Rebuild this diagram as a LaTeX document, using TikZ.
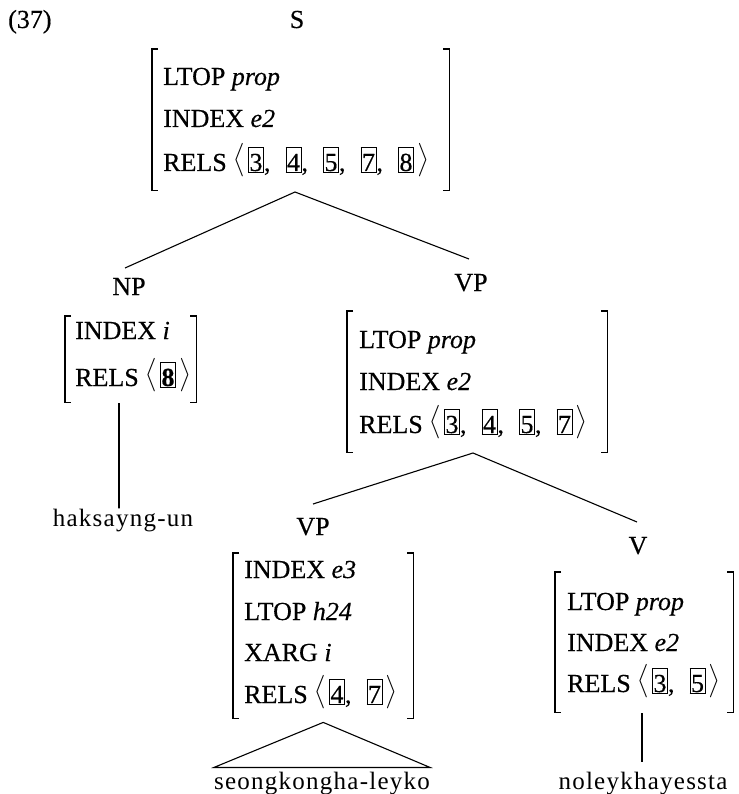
\documentclass[tikz,border=0pt]{standalone}
\usepackage{amsmath}
\usepackage{graphicx}
\usepackage{fontspec}
\setmainfont{Liberation Serif}[FakeBold=0.4]
\newfontfamily\wordfont[LetterSpace=5]{Liberation Serif}

% boxed tag numbers inside RELS lists
\newcommand\tagbox[1]{{\setlength\fboxsep{0.6pt}\setlength\fboxrule{0.9pt}\fbox{\rule{0pt}{22.5pt}#1}}}
\newcommand\relgap{,\hspace{15pt}}
\newcommand\angl[1]{\raisebox{3.5pt}{\scalebox{1}[1.12]{$#1$}}}
\newcommand\rels[1]{\angl{\bigl\langle}\hspace{3pt}#1\hspace{3pt}\angl{\bigr\rangle}}
% square brackets of an attribute-value matrix drawn round a named area node
\newcommand\avmbrackets[1]{%
  \draw[bracket] ([xshift=6pt]#1.north west) -- (#1.north west) -- (#1.south west) -- ([xshift=6pt]#1.south west);
  \draw[bracket] ([xshift=-6pt]#1.north east) -- (#1.north east) -- (#1.south east) -- ([xshift=-6pt]#1.south east);}

\begin{document}
\begin{tikzpicture}[x=1pt,y=-1pt,
  every node/.style={font=\fontsize{26}{30}\selectfont, inner sep=0pt},
  cat/.style={anchor=base},
  avmline/.style={anchor=base west},
  avmarea/.style={anchor=north west, inner sep=0pt},
  word/.style={anchor=base, font=\fontsize{25}{30}\wordfont},
  bracket/.style={line width=1.6pt},
  edge/.style={line width=1.1pt}]

\fill[white] (0,0) rectangle (738,794);
\useasboundingbox (0,0) rectangle (738,794);

\node[avmline] (exnum) at (8,28) {(37)};

% ---- S ----
\node[cat] (S) at (297,28) {S};
\node[avmarea, minimum width=297pt, minimum height=141pt] (Savm) at (152,49) {};
\node[avmline] (S1) at (163,85) {LTOP \textit{prop}};
\node[avmline] (S2) at (163,127) {INDEX \textit{e2}};
\node[avmline] (S3) at (163,171) {RELS \rels{\tagbox3\relgap\tagbox4\relgap\tagbox5\relgap\tagbox7\relgap\tagbox8}};
\avmbrackets{Savm}

% ---- NP ----
\node[cat] (NP) at (129,295) {NP};
\node[avmarea, minimum width=131pt, minimum height=86pt] (NPavm) at (65,316) {};
\node[avmline] (NP1) at (75,339) {INDEX \textit{i}};
\node[avmline] (NP2) at (75,386) {RELS \rels{\tagbox{\textbf{8}}}};
\avmbrackets{NPavm}

% ---- upper VP ----
\node[cat] (VP) at (471,291) {VP};
\node[avmarea, minimum width=260pt, minimum height=141pt] (VPavm) at (347,311) {};
\node[avmline] (VP1) at (359,348) {LTOP \textit{prop}};
\node[avmline] (VP2) at (359,390) {INDEX \textit{e2}};
\node[avmline] (VP3) at (359,433) {RELS \rels{\tagbox3\relgap\tagbox4\relgap\tagbox5\relgap\tagbox7}};
\avmbrackets{VPavm}

% ---- lower VP ----
\node[cat] (VPb) at (313,535) {VP};
\node[avmarea, minimum width=180pt, minimum height=165pt] (VPbavm) at (233,553) {};
\node[avmline] (VPb1) at (244,578) {INDEX \textit{e3}};
\node[avmline] (VPb2) at (244,620) {LTOP \textit{h24}};
\node[avmline] (VPb3) at (244,661) {XARG \textit{i}};
\node[avmline] (VPb4) at (244,703) {RELS \rels{\tagbox4\relgap\tagbox7}};
\avmbrackets{VPbavm}

% ---- V ----
\node[cat] (V) at (638,554) {V};
\node[avmarea, minimum width=178pt, minimum height=140pt] (Vavm) at (555,572) {};
\node[avmline] (V1) at (567,610) {LTOP \textit{prop}};
\node[avmline] (V2) at (567,651) {INDEX \textit{e2}};
\node[avmline] (V3) at (567,692) {RELS \rels{\tagbox3\relgap\tagbox5}};
\avmbrackets{Vavm}

% ---- words ----
\node[word] (w1) at (123,526) {haksayng-un};
\node[word] (w2) at (322,789) {seongkongha-leyko};
\node[word] (w3) at (643,789) {noleykhayessta};

% ---- branches ----
\coordinate (Sapex) at (295,192);
\coordinate (NPend) at (125,268);
\coordinate (VPend) at (469,259);
\draw[edge] (NPend) -- (Sapex) -- (VPend);

\coordinate (VPapex) at (473,453);
\coordinate (VPbend) at (313,504);
\coordinate (Vend) at (637,522);
\draw[edge] (VPbend) -- (VPapex) -- (Vend);

\coordinate (NPfoot) at (119,403);
\draw[edge] (NPfoot) -- (NPfoot |- w1.north) -- +(0,-2);
\coordinate (Vfoot) at (642,713);
\draw[edge] (Vfoot) -- ([yshift=9pt]Vfoot |- w3.north);

\coordinate (tri) at ([yshift=-4pt]VPbavm.south);
\draw[edge, line join=miter] (tri) -- ([yshift=4pt]w2.north west) -- ([yshift=4pt]w2.north east) -- cycle;
\end{tikzpicture}
\end{document}
